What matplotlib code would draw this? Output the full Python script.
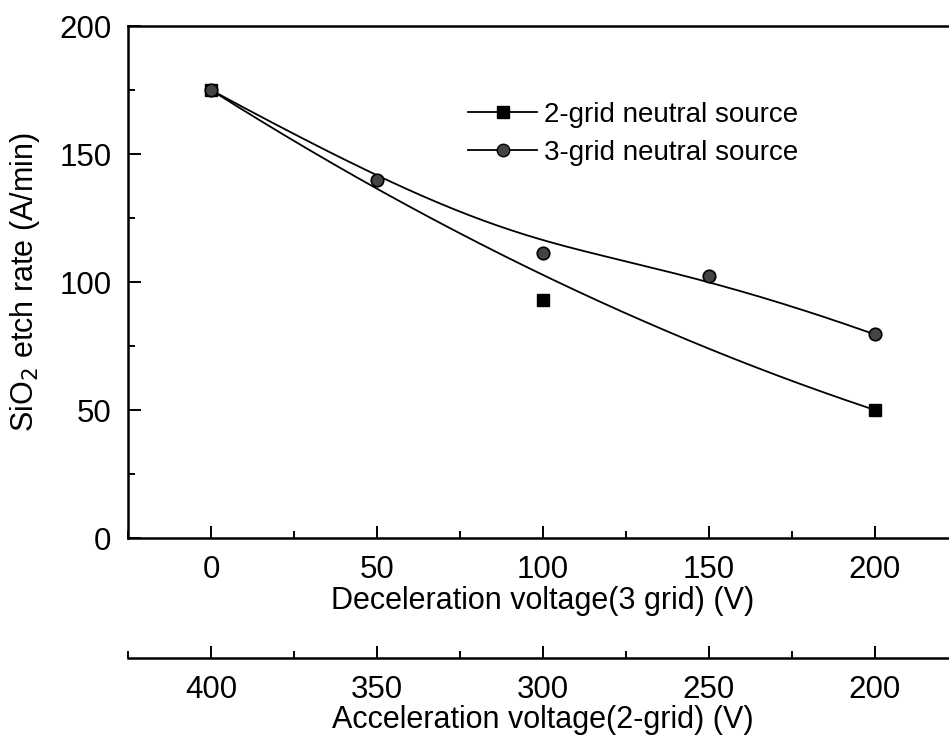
import numpy as np
import matplotlib
matplotlib.use("Agg")
import matplotlib.pyplot as plt
from matplotlib.ticker import MultipleLocator

plt.rcParams['font.family'] = ['Liberation Sans', 'DejaVu Sans']

# data
decel_3grid = [0, 50, 100, 150, 200]
rate_3grid = [175, 140, 111.5, 102.5, 79.5]
decel_2grid = [0, 100, 200]
rate_2grid = [175, 93, 50]
accel_ticks = [400, 350, 300, 250, 200]


def bspline(xs, ys, k, n=300):
    """Clamped B-spline curve using data points as control points (Origin style)."""
    P = np.column_stack([xs, ys]).astype(float)
    m = len(P)
    k = min(k, m - 1)
    inner = np.linspace(0, 1, m - k + 1)[1:-1]
    t = np.concatenate([np.zeros(k + 1), inner, np.ones(k + 1)])
    u = np.linspace(0, 1, n)
    u[-1] = 1 - 1e-12

    def N(i, p, uu):
        if p == 0:
            return ((t[i] <= uu) & (uu < t[i + 1])).astype(float)
        a = np.zeros_like(uu)
        b = np.zeros_like(uu)
        if t[i + p] != t[i]:
            a = (uu - t[i]) / (t[i + p] - t[i]) * N(i, p - 1, uu)
        if t[i + p + 1] != t[i + 1]:
            b = (t[i + p + 1] - uu) / (t[i + p + 1] - t[i + 1]) * N(i + 1, p - 1, uu)
        return a + b

    B = np.array([N(i, k, u) for i in range(m)])
    C = B.T @ P
    return C[:, 0], C[:, 1]


W, H = 949, 738
fig = plt.figure(figsize=(W / 100, H / 100), dpi=100)
ax = fig.add_axes([128 / W, 1 - 538 / H, (958 - 128) / W, (538 - 26) / H])

cx2, cy2 = bspline(decel_2grid, rate_2grid, 3)
cx3, cy3 = bspline(decel_3grid, rate_3grid, 3)

ax.plot(cx2, cy2, color='black', lw=1.3)
ax.plot(cx3, cy3, color='black', lw=1.3)
ax.plot(decel_2grid, rate_2grid, ls='none', marker='s', ms=8, mfc='black', mec='black')
ax.plot(decel_3grid, rate_3grid, ls='none', marker='o', ms=9, mfc='#444444', mec='black', mew=1.2)

# legend proxies
h2, = ax.plot([], [], color='black', lw=1.3, marker='s', ms=8, mfc='black', mec='black')
h3, = ax.plot([], [], color='black', lw=1.3, marker='o', ms=9, mfc='#444444', mec='black')
fig.legend([h2, h3], ['2-grid neutral source', '3-grid neutral source'],
           loc='upper left', bbox_to_anchor=(468 / W, 1 - 102 / H), frameon=False,
           fontsize=20, handlelength=2.5, handletextpad=0.25, labelspacing=0.42,
           borderaxespad=0, borderpad=0)

ax.set_xlim(-25, 225)
ax.set_ylim(0, 200)
ax.xaxis.set_major_locator(MultipleLocator(50))
ax.xaxis.set_minor_locator(MultipleLocator(25))
ax.yaxis.set_major_locator(MultipleLocator(50))
ax.yaxis.set_minor_locator(MultipleLocator(25))
ax.tick_params(which='both', direction='in', top=False, right=False, width=1.4,
               labelsize=22.5)
ax.tick_params(which='major', length=9, pad=12)
ax.tick_params(which='minor', length=5)
for s in ['left', 'bottom', 'top']:
    ax.spines[s].set_linewidth(1.8)
ax.spines['right'].set_visible(False)

ax.set_xlabel('Deceleration voltage(3 grid) (V)', fontsize=22, labelpad=1)
ax.set_ylabel('SiO$_2$ etch rate (A/min)', fontsize=22, labelpad=12)

# second x axis
ax2 = ax.twiny()
ax2.set_xlim(400 + 25, 400 - 225)
ax2.xaxis.set_ticks_position('bottom')
ax2.xaxis.set_label_position('bottom')
ax2.spines['bottom'].set_position(('outward', 120 * 72 / 100))
for s in ['top', 'left', 'right']:
    ax2.spines[s].set_visible(False)
ax2.spines['bottom'].set_linewidth(1.8)
ax2.set_xticks(accel_ticks)
ax2.xaxis.set_minor_locator(MultipleLocator(25))
ax2.tick_params(which='both', direction='in', width=1.4, labelsize=22.5)
ax2.tick_params(which='major', length=9, pad=12)
ax2.tick_params(which='minor', length=5)
ax2.set_xlabel('Acceleration voltage(2-grid) (V)', fontsize=22, labelpad=0)

fig.savefig('out.png', dpi=100)
